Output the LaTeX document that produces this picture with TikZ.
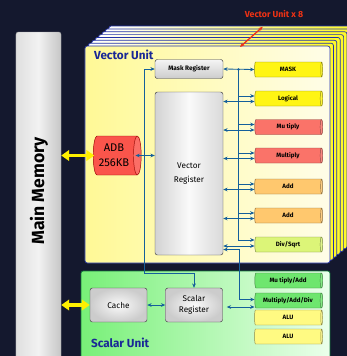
\documentclass[tikz,border=0pt]{standalone}
\usepackage{fontspec}
\setmainfont{Fira Sans}
\usetikzlibrary{arrows.meta,calc,shapes.geometric}
\definecolor{night}{RGB}{20,24,46}
\definecolor{busblue}{RGB}{20,95,155}
\definecolor{titleblue}{RGB}{25,40,150}
\definecolor{frameblue}{RGB}{35,50,170}
\definecolor{framewarm}{RGB}{255,249,150}
\definecolor{framepale}{RGB}{255,253,232}
\definecolor{stackyellow}{RGB}{255,250,40}
\definecolor{scalargreen}{RGB}{120,240,120}
\definecolor{scalarpale}{RGB}{235,255,235}
\definecolor{scalaredge}{RGB}{20,120,60}
\definecolor{unityellow}{RGB}{255,245,20}
\definecolor{unitred}{RGB}{250,115,105}
\definecolor{unitorange}{RGB}{255,200,110}
\definecolor{unitlime}{RGB}{220,245,120}
\definecolor{unitgreen}{RGB}{110,230,110}
\definecolor{unitpale}{RGB}{255,250,130}
\definecolor{adbred}{RGB}{250,85,75}
\definecolor{noteorange}{RGB}{240,50,20}
\definecolor{feedyellow}{RGB}{255,240,0}
\tikzset{
    vu diagram/.style = {x=0.3mm, y=-0.3mm,
                         >={Stealth[length=1.3mm, width=1.1mm]}},
    bus/.style        = {busblue, line width=0.7pt},
    feed/.style       = {draw=feedyellow, line width=2.6pt,
                         -{Triangle[length=2.4mm, width=3.2mm]}},
    stackframe/.style = {draw=frameblue, semithick, rounded corners=2pt,
                         left color=white, right color=stackyellow},
    vframe/.style     = {draw=frameblue, semithick, rounded corners=2pt,
                         left color=framewarm, right color=framepale},
    sframe/.style     = {draw=scalaredge, semithick, rounded corners=2pt,
                         left color=scalargreen, right color=scalarpale},
    memory/.style     = {draw=gray!70, rounded corners=2pt,
                         left color=gray!25, right color=gray!45, middle color=gray!10,
                         minimum width=13.5mm, minimum height=103.2mm},
    memtext/.style    = {rotate=90, font=\fontsize{15}{17}\selectfont\bfseries},
    regbox/.style     = {draw=black!75, rounded corners=2pt, align=center,
                         font=\fontsize{7}{9}\selectfont},
    unit/.style       = {cylinder, shape aspect=0.4, draw=#1!55!black,
                         cylinder uses custom fill, cylinder body fill=#1,
                         cylinder end fill=#1!85!white,
                         minimum height=20.4mm, minimum width=4.5mm, inner sep=0pt,
                         font=\fontsize{5.3}{6}\selectfont\bfseries},
    title/.style      = {titleblue, anchor=west,
                         font=\fontsize{10}{12}\selectfont\bfseries},
    note/.style       = {noteorange, font=\fontsize{7.5}{9}\selectfont\bfseries}
}
\def\buscol{238.5}

\begin{document}
\begin{tikzpicture}[vu diagram]
\fill[night] (0,0) rectangle (347,356);
\useasboundingbox (0,0) rectangle (347,356);
\clip (0,0) rectangle (347,356);

% eight vector units, stacked
\foreach \k in {7,...,1}
  \draw[stackframe, shift={({3.4*\k},{-2.85*\k})}] (85,46) rectangle (330,263);
\node[vframe, minimum width=73.5mm, minimum height=65.1mm] (vecunit) at (207.5,154.5) {};
\draw[sframe] (81,271) rectangle (330,380);

\node[memory] (memory) at (38.5,204) {};
\node[memtext] (memlabel) at (39,191) {Main Memory};

% registers and buffers
\node[regbox, top color=gray!8, bottom color=gray!40,
      minimum width=20.4mm, minimum height=5.7mm,
      font=\fontsize{5.5}{7}\selectfont\bfseries] (maskreg) at (189,69) {Mask Register};
\node[regbox, left color=gray!35, right color=gray!30, middle color=gray!4,
      minimum width=20.4mm, minimum height=48.9mm] (vreg) at (189,173.5) {Vector\\[3pt]Register};
\node[cylinder, shape aspect=0.25, draw=red!60!black, cylinder uses custom fill,
      cylinder body fill=adbred, cylinder end fill=adbred!85!white,
      minimum height=14.4mm, minimum width=11.7mm, align=center,
      font=\fontsize{9.5}{13}\selectfont] (adb) at (114,155.5) {ADB\\256KB};
\node[regbox, shading=radial, inner color=gray!4, outer color=gray!40,
      minimum width=17.1mm, minimum height=10.2mm] (cache) at (118.5,305) {Cache};
\node[regbox, shading=radial, inner color=gray!4, outer color=gray!40,
      minimum width=17.1mm, minimum height=10.2mm] (sreg) at (194,305) {Scalar\\Register};

% functional units
\foreach \name/\y/\col/\txt in {umask/69.5/unityellow/MASK, ulogic/98.5/unityellow/Logical,
    umul/127/unitred/Mu tiply, umulb/155.5/unitred/Multiply,
    uadd/186.5/unitorange/Add, uaddb/215.5/unitorange/Add,
    udiv/244.5/unitlime/{Div/Sqrt},
    usma/280.5/unitgreen/{Mu tiply/Add}, usmad/300.5/unitgreen/{Multiply/Add/Div},
    ualu/317.5/unitpale/ALU, ualub/336.5/unitpale/ALU}
  \node[unit=\col] (\name) at (288,\y) {\txt};

% vector register bus
\coordinate (bustop) at (\buscol,69.5);
\draw[bus, <->] (maskreg.east) -- (umask.west);
\fill[busblue] (bustop) circle (0.4mm);
\foreach \u in {ulogic,umul,umulb,uadd,uaddb} {
  \draw[bus, ->] ([yshift=0.75mm]\u.west -| bustop) -- ([yshift=0.75mm]\u.west);
  \draw[bus, <->] ([yshift=-0.9mm]\u.west -| vreg.east) -- ([yshift=-0.9mm]\u.west);
}
\draw[bus, ->] (bustop) |- ([yshift=1.35mm]udiv.west);
\draw[bus, <->] ([yshift=-0.45mm]udiv.west -| vreg.east) -- ([yshift=-0.45mm]udiv.west);
\coordinate (vtap) at ([yshift=-1.5mm]udiv.west -| vreg.east);
\draw[bus, <->] (vtap) -- ($(vtap -| bustop)+(1,0)$) |- ([yshift=0.3mm]usmad.west);

% left side paths
\coordinate (ltap) at (144,273);
\draw[bus, <->] (maskreg.west) -| (ltap) -| (sreg.north);
\draw[bus, <->] ([xshift=-1.8mm]adb.east) -- (adb.east -| vreg.west);
\draw[bus, <->] (cache.east) -- (sreg.west);
\coordinate (stap) at ([shift={(1.2mm,-0.6mm)}]sreg.east);
\draw[bus, <->] (stap) -- (stap -| usmad.west);

% memory ports, drawn out from the middle both ways
\coordinate (adbport) at ($(adb.west -| memory.east)!0.5!(adb.west)$);
\draw[feed] (adbport) -- (adb.west -| memory.east);
\draw[feed] (adbport) -- ([xshift=0.4mm]adb.west);
\coordinate (cacheport) at ($(cache.west -| memory.east)!0.5!(cache.west)$);
\draw[feed] (cacheport) -- (cache.west -| memory.east);
\draw[feed] (cacheport) -- (cache.west);

\node[title] (vtitle) at (90,55) {Vector Unit};
\node[title] (stitle) at (87,343) {Scalar Unit};
\node[note] (note) at (274,14) {Vector Unit x 8};
\coordinate (notetip) at (240,47);
\draw[noteorange, line width=1.1pt, <->] ($(note.south west)+(22,5)$) -- (notetip);
\end{tikzpicture}
\end{document}
